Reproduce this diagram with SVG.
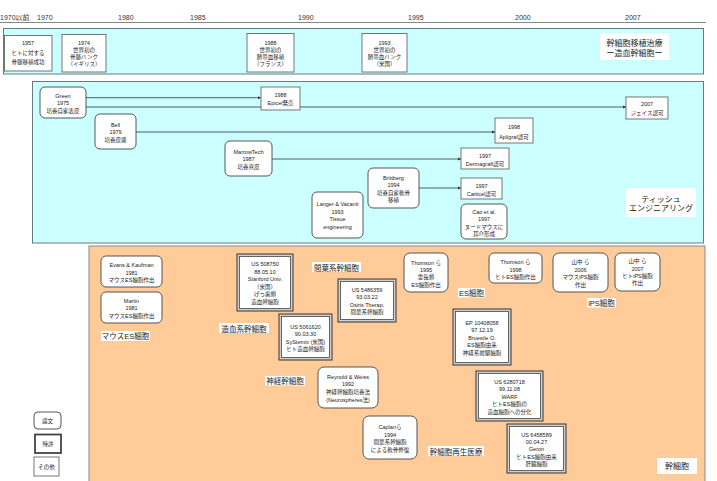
<svg xmlns="http://www.w3.org/2000/svg" width="717" height="481" viewBox="0 0 717 481">
<defs>
<marker id="ar" viewBox="0 0 6 6" refX="6" refY="3" markerWidth="4" markerHeight="4" orient="auto"><path d="M0,0 L6,3 L0,6 z" fill="#333"/></marker>
<style>
text{font-family:"Liberation Sans","Noto Sans CJK JP",sans-serif;fill:#222;text-anchor:middle}
.t{font-size:5.5px}
.yr{font-size:7px;text-anchor:start;fill:#333}
.lb{font-size:7.5px}
.lbb{font-size:8px}
.pan1{fill:#ccffff;stroke:#6a7a7a;stroke-width:1}
.pan3{fill:#ffcc99;stroke:#8a8a8a;stroke-width:1}
.rb{fill:#fff;stroke:#444;stroke-width:0.9}
.sb{fill:#fff;stroke:#555;stroke-width:0.8}
.po{fill:#cfcfcf;stroke:#333;stroke-width:1}
.pi{fill:#fff;stroke:#444;stroke-width:0.8}
.lab{fill:#fff;stroke:none}
.c{stroke:#333;stroke-width:0.8;fill:none;marker-end:url(#ar)}
</style>
</defs>
<rect width="717" height="481" fill="#fff"/>
<!-- timeline -->
<g id="timeline">
<line x1="0" y1="22.5" x2="706" y2="22.5" stroke="#888" stroke-width="1"/>
<text class="yr" x="0" y="20">1970以前</text>
<text class="yr" x="37" y="20">1970</text>
<text class="yr" x="118" y="20">1980</text>
<text class="yr" x="190" y="20">1985</text>
<text class="yr" x="298" y="20">1990</text>
<text class="yr" x="408" y="20">1995</text>
<text class="yr" x="515" y="20">2000</text>
<text class="yr" x="625" y="20">2007</text>
</g>
<!-- panels -->
<rect class="pan1" x="3.5" y="28.5" width="700" height="45.5"/>
<rect class="pan1" x="32.5" y="81.5" width="671" height="161.5"/>
<rect class="pan3" x="89" y="246" width="616" height="240"/>

<!-- top row -->
<g id="n1957"><rect class="sb" x="4.5" y="35.5" width="47.5" height="35.5"/>
<text class="t" x="28" y="45">1957</text><text class="t" x="28" y="55">ヒトに対する</text><text class="t" x="28" y="64">骨髄移植成功</text></g>
<g id="n1974"><rect class="sb" x="62" y="34.5" width="44" height="37.5"/>
<text class="t" x="84" y="45">1974</text><text class="t" x="84" y="52">世界初の</text><text class="t" x="84" y="59">骨髄バンク</text><text class="t" x="84" y="66">（イギリス）</text></g>
<g id="n1988"><rect class="sb" x="247" y="33.5" width="47" height="38.5"/>
<text class="t" x="270.5" y="45">1988</text><text class="t" x="270.5" y="52">世界初の</text><text class="t" x="270.5" y="59">臍帯血移植</text><text class="t" x="270.5" y="66">（フランス）</text></g>
<g id="n1993"><rect class="sb" x="362" y="33.5" width="45" height="38.5"/>
<text class="t" x="384.5" y="45">1993</text><text class="t" x="384.5" y="52">世界初の</text><text class="t" x="384.5" y="59">臍帯血バンク</text><text class="t" x="384.5" y="66">（米国）</text></g>
<g id="lab1"><rect class="lab" x="600" y="33" width="69" height="27"/>
<text class="lbb" x="634.5" y="46">幹細胞移植治療</text><text class="lbb" x="634.5" y="56">ー造血幹細胞ー</text></g>

<!-- tissue engineering -->
<g id="connectors">
<line class="c" x1="86" y1="97.7" x2="261" y2="97.7"/>
<line class="c" x1="86" y1="107" x2="626" y2="107"/>
<line class="c" x1="136" y1="132" x2="495" y2="132"/>
<line class="c" x1="272" y1="159" x2="461" y2="159"/>
<line class="c" x1="419" y1="188" x2="461" y2="188"/>
</g>
<g id="green"><rect class="rb" x="40" y="87" width="46" height="31" rx="5"/>
<text class="t" x="63" y="97.5">Green</text><text class="t" x="63" y="105">1975</text><text class="t" x="63" y="113">培養自家表皮</text></g>
<g id="bell"><rect class="rb" x="95" y="114" width="41" height="35" rx="5"/>
<text class="t" x="115.5" y="127">Bell</text><text class="t" x="115.5" y="134">1979</text><text class="t" x="115.5" y="142">培養皮膚</text></g>
<g id="marrow"><rect class="rb" x="225" y="141" width="47" height="35" rx="5"/>
<text class="t" x="248.5" y="154">MarrowTech</text><text class="t" x="248.5" y="161">1987</text><text class="t" x="248.5" y="169">培養真皮</text></g>
<g id="brittberg"><rect class="rb" x="368" y="168" width="51" height="40" rx="5"/>
<text class="t" x="393.5" y="180">Brittberg</text><text class="t" x="393.5" y="187">1994</text><text class="t" x="393.5" y="195">培養自家軟骨</text><text class="t" x="393.5" y="202">移植</text></g>
<g id="langer"><rect class="rb" x="312" y="192" width="51" height="46" rx="5"/>
<text class="t" x="337.5" y="206">Langer &amp; Vacanti</text><text class="t" x="337.5" y="214">1993</text><text class="t" x="337.5" y="221">Tissue</text><text class="t" x="337.5" y="229">engineering</text></g>
<g id="epicel"><rect class="sb" x="261" y="87" width="39" height="23"/>
<text class="t" x="280.5" y="97">1988</text><text class="t" x="280.5" y="105">Epicel発売</text></g>
<g id="jace"><rect class="sb" x="626" y="97" width="42" height="22"/>
<text class="t" x="647" y="106">2007</text><text class="t" x="647" y="115">ジェイス認可</text></g>
<g id="apligraf"><rect class="sb" x="495" y="118" width="38" height="25"/>
<text class="t" x="514" y="129">1998</text><text class="t" x="514" y="139">Apligraf認可</text></g>
<g id="dermagraft"><rect class="sb" x="461" y="148" width="48" height="21"/>
<text class="t" x="485" y="158">1997</text><text class="t" x="485" y="166">Dermagraft認可</text></g>
<g id="carticel"><rect class="sb" x="461" y="178" width="41" height="21"/>
<text class="t" x="481.5" y="188">1997</text><text class="t" x="481.5" y="196">Carticel認可</text></g>
<g id="cao"><rect class="rb" x="461" y="204" width="46" height="35" rx="5"/>
<text class="t" x="484" y="214">Cao et al.</text><text class="t" x="484" y="221">1997</text><text class="t" x="484" y="229">ヌードマウスに</text><text class="t" x="484" y="236">耳介形成</text></g>
<g id="lab2"><rect class="lab" x="626" y="188" width="70" height="29"/>
<text class="lbb" x="661" y="202">ティッシュ</text><text class="lbb" x="661" y="211">エンジニアリング</text></g>

<!-- stem cells -->
<g id="evans"><rect class="rb" x="101" y="256" width="61" height="31" rx="5"/>
<text class="t" x="131.5" y="267">Evans &amp; Kaufman</text><text class="t" x="131.5" y="275">1981</text><text class="t" x="131.5" y="282">マウスES細胞作出</text></g>
<g id="martin"><rect class="rb" x="101" y="292" width="61" height="31" rx="5"/>
<text class="t" x="131.5" y="303">Martin</text><text class="t" x="131.5" y="310">1981</text><text class="t" x="131.5" y="318">マウスES細胞作出</text></g>
<g id="lab-mes"><rect class="lab" x="101" y="331" width="49" height="10"/><text class="lb" x="125.5" y="339">マウスES細胞</text></g>

<g id="us508750"><rect class="po" x="237" y="254" width="56" height="57"/><rect class="pi" x="239.5" y="256.5" width="51" height="52"/>
<text class="t" x="265" y="266">US 508750</text><text class="t" x="265" y="274">88.05.10</text><text class="t" x="265" y="281">Stanford Univ.</text><text class="t" x="265" y="289">（米国）</text><text class="t" x="265" y="296">げっ歯類</text><text class="t" x="265" y="304">造血幹細胞</text></g>
<g id="us5486359"><rect class="po" x="338" y="279" width="58" height="43"/><rect class="pi" x="340.5" y="281.5" width="53" height="38"/>
<text class="t" x="367" y="292">US 5486359</text><text class="t" x="367" y="299">93.03.22</text><text class="t" x="367" y="307">Osiris Therap.</text><text class="t" x="367" y="314">間葉系幹細胞</text></g>
<g id="us5061620"><rect class="po" x="279" y="314" width="53" height="46"/><rect class="pi" x="281.5" y="316.5" width="48" height="41"/>
<text class="t" x="305.5" y="329">US 5061620</text><text class="t" x="305.5" y="336">90.03.30</text><text class="t" x="305.5" y="344">SyStemix (米国)</text><text class="t" x="305.5" y="351">ヒト造血幹細胞</text></g>
<g id="thomson95"><rect class="rb" x="404" y="253" width="44" height="39" rx="6"/>
<text class="t" x="426" y="265">Thomson ら</text><text class="t" x="426" y="272">1995</text><text class="t" x="426" y="279">霊長類</text><text class="t" x="426" y="287">ES細胞作出</text></g>
<g id="lab-mes2"><rect class="lab" x="312" y="262" width="49" height="10"/><text class="lb" x="336.5" y="270.5">間葉系幹細胞</text></g>
<g id="lab-hsc"><rect class="lab" x="219" y="323" width="50" height="10"/><text class="lb" x="244" y="331.5">造血系幹細胞</text></g>
<g id="lab-es"><rect class="lab" x="458" y="288" width="27" height="9.5"/><text class="lb" x="471.5" y="296">ES細胞</text></g>
<g id="thomson98"><rect class="rb" x="489" y="253" width="53" height="30" rx="5"/>
<text class="t" x="515.5" y="264">Thomson ら</text><text class="t" x="515.5" y="272">1998</text><text class="t" x="515.5" y="279">ヒトES細胞作出</text></g>
<g id="yamanaka06"><rect class="rb" x="553" y="253" width="55" height="39" rx="6"/>
<text class="t" x="580.5" y="264">山中 ら</text><text class="t" x="580.5" y="272">2006</text><text class="t" x="580.5" y="279">マウスiPS細胞</text><text class="t" x="580.5" y="287">作出</text></g>
<g id="yamanaka07"><rect class="rb" x="615" y="253" width="45" height="38" rx="6"/>
<text class="t" x="637.5" y="263">山中 ら</text><text class="t" x="637.5" y="271">2007</text><text class="t" x="637.5" y="278">ヒトiPS細胞</text><text class="t" x="637.5" y="285">作出</text></g>
<g id="lab-ips"><rect class="lab" x="587" y="298" width="29" height="9.5"/><text class="lb" x="601.5" y="305.5">iPS細胞</text></g>
<g id="ep"><rect class="po" x="453" y="309" width="58" height="56"/><rect class="pi" x="455.5" y="311.5" width="53" height="51"/>
<text class="t" x="482" y="325">EP 10408058</text><text class="t" x="482" y="332">97.12.19</text><text class="t" x="482" y="340">Bruestle O.</text><text class="t" x="482" y="347">ES細胞由来</text><text class="t" x="482" y="355">神経系前駆細胞</text></g>
<g id="reynold"><rect class="rb" x="318" y="367" width="60" height="41" rx="6"/>
<text class="t" x="348" y="379">Reynold &amp; Weiss</text><text class="t" x="348" y="386">1992</text><text class="t" x="348" y="394">神経幹細胞培養法</text><text class="t" x="348" y="402">(Neurospheres法)</text></g>
<g id="caplan"><rect class="rb" x="363" y="416" width="54" height="43" rx="6"/>
<text class="t" x="390" y="429">Caplanら</text><text class="t" x="390" y="437">1994</text><text class="t" x="390" y="444">間葉系幹細胞</text><text class="t" x="390" y="452">による軟骨修復</text></g>
<g id="lab-nsc"><rect class="lab" x="265" y="376" width="40" height="9.5"/><text class="lb" x="285" y="383.5">神経幹細胞</text></g>
<g id="us6280718"><rect class="po" x="476" y="371" width="67" height="50"/><rect class="pi" x="478.5" y="373.5" width="62" height="45"/>
<text class="t" x="509.5" y="384">US 6280718</text><text class="t" x="509.5" y="391">99.11.08</text><text class="t" x="509.5" y="399">WARF</text><text class="t" x="509.5" y="406">ヒトES細胞の</text><text class="t" x="509.5" y="414">造血細胞への分化</text></g>
<g id="us6458589"><rect class="po" x="507" y="424" width="59" height="49"/><rect class="pi" x="509.5" y="426.5" width="54" height="44"/>
<text class="t" x="536.5" y="437">US 6458589</text><text class="t" x="536.5" y="444">00.04.27</text><text class="t" x="536.5" y="451">Geron</text><text class="t" x="536.5" y="459">ヒトES細胞由来</text><text class="t" x="536.5" y="466">肝臓細胞</text></g>
<g id="lab-regen"><rect class="lab" x="428" y="446" width="56" height="10"/><text class="lb" x="456" y="454.5">幹細胞再生医療</text></g>
<g id="lab-sc"><rect class="lab" x="657" y="458" width="40" height="16"/><text class="lbb" x="677" y="469">幹細胞</text></g>

<!-- legend -->
<g id="leg-paper"><rect class="rb" x="34" y="412" width="27" height="17" rx="4"/><text class="t" x="47.5" y="422.5">論文</text></g>
<g id="leg-patent"><rect x="35" y="434.5" width="26" height="18.5" fill="#fff" stroke="#444" stroke-width="1.8"/><text class="t" x="48" y="445.5">特許</text></g>
<g id="leg-other"><rect class="sb" x="34" y="457" width="25" height="19"/><text class="t" x="46.5" y="468.5">その他</text></g>
</svg>
